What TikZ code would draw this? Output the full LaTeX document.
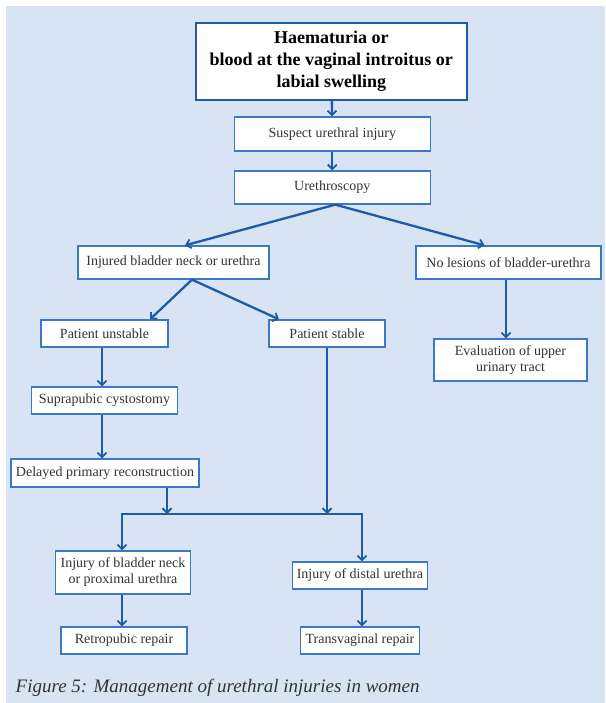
\documentclass[tikz,border=0pt]{standalone}
\usepackage{fontspec}
\setmainfont{Liberation Serif}
\usepackage{tikz}
\usetikzlibrary{arrows.meta,positioning,calc}

\definecolor{fondbleu}{RGB}{216,228,243}
\definecolor{bleutrait}{RGB}{30,90,168}
\definecolor{bleucadre}{RGB}{58,122,192}
\definecolor{texte}{RGB}{51,51,51}

\begin{document}
\begin{tikzpicture}[x=1pt,y=-1pt,>={Straight Barb[length=4.5pt,width=9pt,line width=1.8pt]}]
%styles des boites et des fleches
\tikzset{boite/.style={draw=bleucadre,line width=1.3pt,fill=white,text=texte,
  font=\fontsize{14}{16}\selectfont,align=center,inner sep=0pt},
  titre/.style={draw=bleutrait,line width=2pt,fill=white,text=black,
  font=\fontsize{18}{22}\selectfont\bfseries,align=center,inner sep=0pt},
  fleche/.style={->,bleutrait,line width=2.3pt}}
\useasboundingbox (0,0) rectangle (605,703);
\fill[fondbleu] (6,6) rectangle (605,703);
%boites du haut
\node[titre,minimum width=271pt,minimum height=77pt] (hema) at (331.3,61.3) {Haematuria or\\blood at the vaginal introitus or\\labial swelling};
\node[boite,minimum width=196pt,minimum height=34pt] (suspect) at (332.3,134) {Suspect urethral injury};
\node[boite,minimum width=196pt,minimum height=33pt] (urethro) at (332.3,187.5) {Urethroscopy};
\node[boite,minimum width=191pt,minimum height=33pt] (lese) at (173.5,262.5) {Injured bladder neck or urethra};
\node[boite,minimum width=185pt,minimum height=33pt] (indemne) at (508.5,262.5) {No lesions of bladder-urethra};
%branche gauche
\node[boite,minimum width=127pt,minimum height=27pt] (instable) at (104.5,333.5) {Patient unstable};
\node[boite,minimum width=116pt,minimum height=27pt] (stable) at (327,333.5) {Patient stable};
\node[boite,minimum width=153pt,minimum height=42pt] (evalua) at (510.5,360) {Evaluation of upper\\urinary tract};
\node[boite,minimum width=146pt,minimum height=27pt] (cysto) at (104.5,400.5) {Suprapubic cystostomy};
\node[boite,minimum width=188pt,minimum height=28pt] (differe) at (105,473) {Delayed primary reconstruction};
%boites du bas
\node[boite,minimum width=134.5pt,minimum height=43pt] (proximal) at (123,572.5) {Injury of bladder neck\\or proximal urethra};
\node[boite,minimum width=135pt,minimum height=27pt] (distal) at (360,575.5) {Injury of distal urethra};
\node[boite,minimum width=126pt,minimum height=27pt] (retro) at (124,640.5) {Retropubic repair};
\node[boite,minimum width=119pt,minimum height=27pt] (transvag) at (360,640.5) {Transvaginal repair};
\coordinate (barreG) at (122,514);
\coordinate (barreD) at (362,514);
%fleches
\draw[fleche] (hema) -- (suspect);
\draw[fleche] (suspect) -- (urethro);
\draw[fleche] ([xshift=3pt]urethro.south) -- ([xshift=11.5pt]lese.north);
\draw[fleche] ([xshift=3pt]urethro.south) -- ([xshift=-24pt]indemne.north);
\draw[fleche] ([xshift=18.5pt]lese.south) -- ([xshift=45.5pt]instable.north);
\draw[fleche] ([xshift=18.5pt]lese.south) -- ([xshift=-48pt]stable.north);
\draw[fleche] ([xshift=-2.5pt]indemne.south) -- ([xshift=-2.5pt]indemne.south |- evalua.north);
\draw[fleche] ([xshift=-2.5pt]instable.south) -- ([xshift=-2.5pt]instable.south |- cysto.north);
\draw[fleche] ([xshift=-2.5pt]cysto.south) -- ([xshift=-2.5pt]cysto.south |- differe.north);
\draw[fleche] ([xshift=62pt]differe.south) -- ([xshift=62pt]differe.south |- barreG);
\draw[fleche] (stable.south) -- (stable.south |- barreD);
\draw[fleche,<->,line join=miter] (barreG |- proximal.north) -- (barreG) -- (barreD) -- (barreD |- distal.north);
\draw[fleche] (barreG |- proximal.south) -- (barreG |- retro.north);
\draw[fleche] (barreD |- distal.south) -- (barreD |- transvag.north);
%legende
\node[anchor=base west,inner sep=0pt,text=texte,font=\fontsize{19}{22}\selectfont\itshape] (legende) at (15.5,692) {Figure 5: Management of urethral injuries in women};
\end{tikzpicture}
\end{document}
